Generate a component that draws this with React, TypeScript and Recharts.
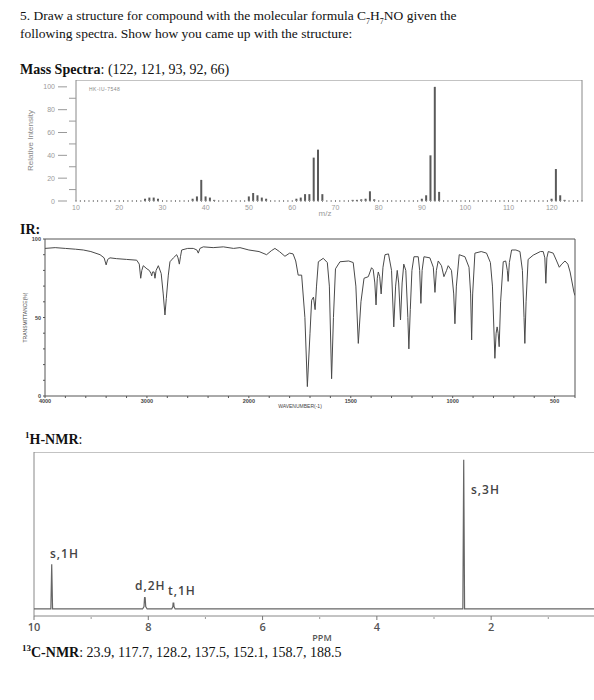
import React from "react";
import { BarChart, Bar, LineChart, Line, XAxis, YAxis, ReferenceLine } from "recharts";

// ---- mass spectrum ----
const msMz = [26, 27, 28, 29, 37, 38, 39, 40, 41, 42, 50, 51, 52, 53, 54, 61, 62, 63, 64, 65, 66, 67, 74, 75, 76, 77, 78, 79, 90, 91, 92, 93, 94, 120, 121, 122, 123];
const msIntensity = [2, 3, 3, 2, 2, 4, 18.5, 4, 3, 1, 4, 7, 5, 3, 2, 2, 3, 6, 6, 38, 45, 6, 1, 1, 1.5, 2, 8.5, 1.5, 2, 5, 40, 100, 8, 2, 28, 5, 1];
const msAxisTicks = Array.from({ length: 118 }, (_, i) => 10 + i);
const msIntensityTicks = [0, 10, 20, 30, 40, 50, 60, 70, 80, 90, 100];

// ---- IR (transmittance %) ----
const irWavenumber = [
  4000, 3900, 3800, 3700, 3624, 3550, 3460, 3420, 3400, 3385, 3362, 3300, 3200, 3100, 3075, 3061, 3050, 3036,
  3000, 2977, 2960, 2953, 2945, 2930, 2921, 2910, 2888, 2860, 2840, 2823, 2810, 2790, 2774, 2740, 2708, 2695,
  2682, 2670, 2659, 2600, 2545, 2510, 2496, 2480, 2447, 2350, 2250, 2150, 2087, 2000, 1950, 1913, 1890, 1872,
  1850, 1823, 1800, 1783, 1770, 1758, 1741, 1725, 1713, 1700, 1692, 1683, 1675, 1668, 1659, 1635, 1615, 1605,
  1594, 1585, 1575, 1553, 1510, 1488, 1475, 1463, 1450, 1435, 1414, 1398, 1390, 1382, 1376, 1370, 1365, 1358,
  1351, 1342, 1332, 1315, 1300, 1289, 1280, 1272, 1265, 1256, 1248, 1240, 1230, 1220, 1215, 1208, 1200, 1190,
  1169, 1162, 1156, 1150, 1141, 1112, 1095, 1087, 1080, 1071, 1055, 1043, 1030, 1022, 1006, 995, 989, 982,
  968, 940, 920, 912, 907, 902, 891, 860, 834, 815, 805, 793, 787, 782, 777, 772, 765, 752,
  740, 732, 728, 722, 711, 690, 670, 658, 650, 646, 640, 630, 605, 570, 556, 548, 543, 538,
  531, 507, 490, 477, 465, 449, 435, 424, 405, 400,
];
const irTransmittance = [
  94, 94.5, 94, 93.5, 93, 92, 90, 88, 83.5, 87, 88, 87.5, 87, 86.5, 84, 75, 80, 83,
  81, 80, 78, 76.5, 79, 79, 75, 80, 83, 78, 65, 51.6, 62, 77, 85.5, 88, 90, 88,
  84, 89, 93, 94, 94, 93, 91, 94, 95, 94.5, 95, 94, 94.5, 93, 92, 90, 92.5, 94,
  92, 89, 91, 90.5, 86, 77, 77, 50, 6, 40, 61, 63, 55, 70, 85.5, 87.7, 85, 70,
  11, 50, 81, 85.5, 86, 85, 70, 33.5, 60, 75, 76, 81.7, 80.5, 72, 58, 75, 79, 76,
  65, 82, 90, 90.5, 80, 44, 70, 80, 72, 48.4, 72, 84, 80, 50, 30, 55, 80, 88.7,
  88.7, 80, 59, 80, 88.7, 88, 82, 66, 80, 86, 83, 76, 80, 83, 80, 65, 46, 70,
  90, 88.7, 82, 65, 35.7, 65, 91, 92, 91, 85, 70, 24, 40, 44, 40, 31.4, 60, 85.5,
  86, 80, 73, 85, 93, 93, 92, 80, 50, 33.5, 60, 87, 89.7, 92, 92, 88, 71.8, 88,
  92, 91, 86, 82, 84, 86, 84, 79, 66, 64,
];
const irTickWavenumbers = [
  4000, 3800, 3600, 3400, 3200, 3000, 2800, 2600, 2400, 2200, 2000,
  1900, 1800, 1700, 1600, 1500, 1400, 1300, 1200, 1100, 1000, 900, 800, 700, 600, 500, 400,
];
const irLabelledWavenumbers = [4000, 3000, 2000, 1500, 1000, 500];
const irPercentTicks = [0, 10, 20, 30, 40, 50, 60, 70, 80, 90, 100];

// ---- 1H NMR ----
const nmrPpm = [
  10, 9.705, 9.69, 9.675, 8.1, 8.075, 8.065, 8.06, 8.055, 8.045, 8.02,
  7.59, 7.57, 7.565, 7.56, 7.555, 7.55, 7.53, 2.495, 2.48, 2.465, 0.2,
];
const nmrIntensity = [
  0, 0, 28.5, 0, 0, 1.5, 7.5, 5, 7.5, 1.5, 0,
  0, 1.5, 4, 3, 4, 1.5, 0, 0, 95, 0, 0,
];
const nmrTicks = [10, 9, 8, 7, 6, 5, 4, 3, 2, 1];

// IR x axis: 4000-2000 drawn at half the scale of 2000-400
const toAxis = (wn: number) => (wn >= 2000 ? (4000 - wn) / 2 : 1000 + (2000 - wn));
const fromAxis = (t: number) => (t <= 1000 ? 4000 - 2 * t : 2000 - (t - 1000));

const msData = msMz.map((mz, i) => ({ mz, intensity: msIntensity[i] }));
const irData = irWavenumber.map((wn, i) => ({ t: toAxis(wn), tr: irTransmittance[i] }));
const irTicks = irTickWavenumbers.map(toAxis);
const nmrData = nmrPpm.map((ppm, i) => ({ ppm, h: nmrIntensity[i] }));

const serif = "'Liberation Serif', 'Times New Roman', serif";
const sans = "'Liberation Sans', Arial, sans-serif";

const MsXTick = ({ x, y, payload }: any) => {
  const v = payload.value;
  return (
    <g>
      <line x1={x} x2={x} y1={y - 1} y2={y + 1} stroke="#888" />
      {v % 10 === 0 && v <= 120 && (
        <text x={x} y={y + 9} textAnchor="middle" fontSize={7} fill="#9a9a9a" fontFamily={sans}>
          {v}
        </text>
      )}
    </g>
  );
};

const MsYTick = ({ x, y, payload }: any) => {
  const v = payload.value;
  const major = v % 20 === 0;
  return (
    <g>
      {major ? (
        <>
          <line x1={x - 18} x2={x - 9} y1={y} y2={y} stroke="#999" />
          <text x={x - 21} y={y + 2.5} textAnchor="end" fontSize={7} fill="#9a9a9a" fontFamily={sans}>
            {v}
          </text>
        </>
      ) : (
        <line x1={x - 7} x2={x} y1={y} y2={y} stroke="#999" />
      )}
    </g>
  );
};

const IrXTick = ({ x, y, payload }: any) => {
  const wn = fromAxis(payload.value);
  return (
    <g>
      <line x1={x} x2={x} y1={y} y2={y + 2} stroke="#555" />
      {irLabelledWavenumbers.includes(wn) && (
        <text x={x} y={y + 7} textAnchor="middle" fontSize={5.5} fontWeight="bold" fill="#444" fontFamily={sans}>
          {wn}
        </text>
      )}
    </g>
  );
};

const IrYTick = ({ x, y, payload }: any) => {
  const v = payload.value;
  return (
    <g>
      <line x1={x - 2} x2={x} y1={y} y2={y} stroke="#555" />
      {v % 50 === 0 && (
        <text x={x - 4} y={y + 2} textAnchor="end" fontSize={5.5} fontWeight="bold" fill="#444" fontFamily={sans}>
          {v}
        </text>
      )}
    </g>
  );
};

const NmrTick = ({ x, y, payload }: any) => {
  const v = payload.value;
  const major = v % 2 === 0;
  return (
    <g>
      {major ? (
        <line x1={x} x2={x} y1={y} y2={y + 4} stroke="#777" />
      ) : (
        <line x1={x} x2={x} y1={y + 1} y2={y + 3} stroke="#999" />
      )}
      {major && (
        <text x={x} y={y + 15} textAnchor="middle" fontSize={11} fontWeight={600} fill="#555" fontFamily="'Open Sans', sans-serif">
          {v}
        </text>
      )}
    </g>
  );
};

const Txt = ({ x, y, size = 14, style, children }: any) => (
  <div
    style={{
      position: "absolute",
      left: x,
      top: y,
      fontSize: size,
      lineHeight: 1,
      whiteSpace: "nowrap",
      fontFamily: serif,
      color: "#111",
      ...style,
    }}
  >
    {children}
  </div>
);

const supStyle = { fontSize: 9, lineHeight: 0, verticalAlign: "super" } as const;
const subStyle = { fontSize: 8, lineHeight: 0, verticalAlign: "sub" } as const;
const peakLabel = {
  fontFamily: "'Open Sans', sans-serif",
  fontWeight: 600,
  color: "#444",
  letterSpacing: 1,
};

export default function App() {
  return (
    <div style={{ position: "absolute", left: 0, top: 0, width: 594, height: 700, background: "#fff" }}>
      <Txt x={20} y={9} size={13.5}>
        5. Draw a structure for compound with the molecular formula C<sub style={subStyle}>7</sub>H
        <sub style={subStyle}>7</sub>NO given the
      </Txt>
      <Txt x={20} y={27} size={13.5}>following spectra. Show how you came up with the structure:</Txt>
      <Txt x={20} y={63}>
        <b>Mass Spectra</b>: (122, 121, 93, 92, 66)
      </Txt>

      <div style={{ position: "absolute", left: 0, top: 80 }}>
        <BarChart width={594} height={141} data={msData} margin={{ top: 0, right: 12, bottom: 0, left: 0 }}>
          <XAxis
            type="number"
            dataKey="mz"
            domain={[10, 127]}
            allowDataOverflow
            ticks={msAxisTicks}
            interval={0}
            tick={<MsXTick />}
            tickSize={0}
            tickMargin={0}
            axisLine={false}
            height={20}
            label={{ value: "m/z", position: "insideBottom", offset: 5, fontSize: 8, fill: "#999", fontFamily: sans, dx: -4 }}
          />
          <YAxis
            domain={[0, 106]}
            allowDataOverflow
            ticks={msIntensityTicks}
            interval={0}
            tick={<MsYTick />}
            tickSize={0}
            tickMargin={0}
            width={76}
            stroke="#888"
            label={{
              value: "Relative Intensity",
              angle: -90,
              position: "insideLeft",
              offset: 30,
              fontSize: 8,
              fill: "#888",
              fontFamily: sans,
              style: { textAnchor: "middle" },
            }}
          />
          <ReferenceLine y={106} stroke="#888" />
          <ReferenceLine x={127} stroke="#888" />
          <Bar dataKey="intensity" barSize={2} fill="#5a5a5a" isAnimationActive={false} />
        </BarChart>
      </div>
      <div
        style={{
          position: "absolute",
          left: 89,
          top: 86,
          fontSize: 5,
          fontFamily: sans,
          color: "#888",
          letterSpacing: 0.5,
          whiteSpace: "nowrap",
        }}
      >
        HK-IU-7548
      </div>

      <Txt x={20} y={223}>
        <b>IR:</b>
      </Txt>
      <div style={{ position: "absolute", left: 0, top: 235 }}>
        <LineChart width={594} height={179} data={irData} margin={{ top: 4, right: 19, bottom: 0, left: 0 }}>
          <XAxis
            type="number"
            dataKey="t"
            domain={[0, 2600]}
            allowDataOverflow
            ticks={irTicks}
            interval={0}
            tick={<IrXTick />}
            tickSize={0}
            tickMargin={0}
            height={18}
            stroke="#555"
            label={{ value: "WAVENUMBER(-1)", position: "insideBottom", offset: 6, dx: -10, fontSize: 5, fill: "#444", fontFamily: sans }}
          />
          <YAxis
            domain={[0, 100]}
            allowDataOverflow
            ticks={irPercentTicks}
            interval={0}
            tick={<IrYTick />}
            tickSize={0}
            tickMargin={0}
            width={45}
            stroke="#555"
            label={{
              value: "TRANSMITTANCE(%)",
              angle: -90,
              position: "insideLeft",
              offset: 25,
              fontSize: 5,
              fill: "#444",
              fontFamily: sans,
              style: { textAnchor: "middle" },
            }}
          />
          <ReferenceLine y={100} stroke="#555" />
          <ReferenceLine x={2600} stroke="#555" />
          <Line type="linear" dataKey="tr" stroke="#4a4a4a" strokeWidth={1} dot={false} isAnimationActive={false} />
        </LineChart>
      </div>

      <Txt x={25} y={433}>
        <b>
          <sup style={supStyle}>1</sup>H-NMR
        </b>
        :
      </Txt>
      <div style={{ position: "absolute", left: 0, top: 452 }}>
        <LineChart width={594} height={194} data={nmrData} margin={{ top: 0, right: 0, bottom: 0, left: 34 }}>
          <XAxis
            type="number"
            dataKey="ppm"
            domain={[0.2, 10]}
            reversed
            allowDataOverflow
            ticks={nmrTicks}
            interval={0}
            tick={<NmrTick />}
            tickSize={0}
            tickMargin={0}
            height={30}
            stroke="#888"
            label={{
              value: "PPM",
              position: "insideBottom",
              offset: 5,
              dx: 8,
              fontSize: 9,
              fontWeight: 600,
              fill: "#555",
              fontFamily: "'Open Sans', sans-serif",
            }}
          />
          <YAxis hide domain={[-4.5, 100]} allowDataOverflow />
          <ReferenceLine y={100} stroke="#888" />
          <ReferenceLine x={10} stroke="#888" />
          <Line type="linear" dataKey="h" stroke="#666" strokeWidth={1.2} dot={false} isAnimationActive={false} />
        </LineChart>
      </div>
      <Txt x={50} y={548} size={12} style={peakLabel}>s,1H</Txt>
      <Txt x={135} y={580} size={12} style={peakLabel}>d,2H</Txt>
      <Txt x={168} y={585} size={12} style={peakLabel}>t,1H</Txt>
      <Txt x={471} y={484} size={12} style={peakLabel}>s,3H</Txt>

      <Txt x={22} y={646}>
        <b>
          <sup style={supStyle}>13</sup>C-NMR
        </b>
        : 23.9, 117.7, 128.2, 137.5, 152.1, 158.7, 188.5
      </Txt>
    </div>
  );
}
